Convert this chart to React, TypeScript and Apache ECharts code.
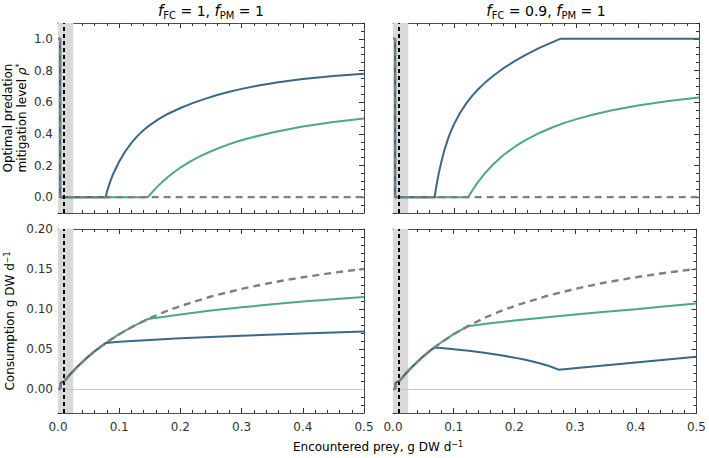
import React, { useEffect, useRef } from "react";
import * as echarts from "echarts";

// ---- Tick values ----
const xTicks = [0, 0.1, 0.2, 0.3, 0.4, 0.5];
const rhoTicks = [0, 0.2, 0.4, 0.6, 0.8, 1.0];
const rhoMinorTicks = [-0.1, -0.05, 0.05, 0.1, 0.15, 0.25, 0.3, 0.35, 0.45, 0.5, 0.55, 0.65, 0.7, 0.75, 0.85, 0.9, 0.95, 1.05, 1.1];
const consTicks = [0, 0.05, 0.1, 0.15, 0.2];
const consMinorTicks = [-0.03, -0.02, -0.01, 0.01, 0.02, 0.03, 0.04, 0.06, 0.07, 0.08, 0.09, 0.11, 0.12, 0.13, 0.14, 0.16, 0.17, 0.18, 0.19];

// ---- Panel titles ----
const panelTitles = [
  "{i|f}{sub|FC}{n| = 1, }{i|f}{sub|PM}{n| = 1}",
  "{i|f}{sub|FC}{n| = 0.9, }{i|f}{sub|PM}{n| = 1}",
];

// ---- Optimal predation mitigation level, f_FC = 1 ----
const rhoA_blue: [number, number][] = [
  [0, 1], [0.0035, 1], [0.0035, 0], [0.078, 0], [0.08, 0.035], [0.085, 0.095], [0.09, 0.145],
  [0.1, 0.225], [0.11, 0.29], [0.12, 0.343], [0.13, 0.387], [0.14, 0.424], [0.15, 0.455],
  [0.165, 0.494], [0.18, 0.527], [0.2, 0.563], [0.22, 0.594], [0.24, 0.621], [0.26, 0.645],
  [0.28, 0.666], [0.3, 0.684], [0.33, 0.707], [0.36, 0.726], [0.4, 0.747], [0.45, 0.766],
  [0.5, 0.78],
];
const rhoA_green: [number, number][] = [
  [0, 1], [0.0035, 1], [0.0035, 0], [0.147, 0], [0.15, 0.014], [0.155, 0.036], [0.16, 0.057],
  [0.17, 0.095], [0.18, 0.129], [0.19, 0.159], [0.2, 0.187], [0.215, 0.223], [0.23, 0.254],
  [0.25, 0.29], [0.27, 0.321], [0.29, 0.348], [0.31, 0.371], [0.35, 0.409], [0.4, 0.446],
  [0.45, 0.475], [0.5, 0.497],
];
const rhoA_ref: [number, number][] = [[0, 1], [0.0035, 1], [0.0035, 0], [0.5, 0]];

// ---- Optimal predation mitigation level, f_FC = 0.9 ----
const rhoB_blue: [number, number][] = [
  [0, 1], [0.0035, 1], [0.0035, 0], [0.068, 0], [0.07, 0.05], [0.072, 0.095], [0.075, 0.155],
  [0.08, 0.24], [0.085, 0.31], [0.09, 0.37], [0.095, 0.42], [0.1, 0.463], [0.11, 0.535],
  [0.12, 0.594], [0.13, 0.643], [0.14, 0.685], [0.15, 0.722], [0.165, 0.77], [0.18, 0.813],
  [0.2, 0.862], [0.22, 0.905], [0.24, 0.944], [0.26, 0.978], [0.273, 1.0], [0.5, 1.0],
];
const rhoB_green: [number, number][] = [
  [0, 1], [0.0035, 1], [0.0035, 0], [0.123, 0], [0.125, 0.013], [0.13, 0.045], [0.135, 0.074],
  [0.14, 0.101], [0.15, 0.15], [0.163, 0.205], [0.18, 0.265], [0.2, 0.322], [0.218, 0.364],
  [0.24, 0.407], [0.26, 0.44], [0.28, 0.469], [0.3, 0.493], [0.326, 0.521], [0.36, 0.55],
  [0.4, 0.579], [0.45, 0.607], [0.5, 0.63],
];
const rhoB_ref: [number, number][] = [[0, 1], [0.0035, 1], [0.0035, 0], [0.5, 0]];

// ---- Consumption, f_FC = 1 ----
const consA_blue: [number, number][] = [
  [0, 0], [0.0035, 0], [0.0045, 0.008], [0.01, 0.0096], [0.02, 0.0184], [0.03, 0.0265],
  [0.04, 0.0339], [0.05, 0.0408], [0.06, 0.0471], [0.07, 0.053], [0.078, 0.0574],
  [0.1, 0.0592], [0.2, 0.0633], [0.3, 0.0665], [0.4, 0.0694], [0.5, 0.0719],
];
const consA_green: [number, number][] = [
  [0, 0], [0.0035, 0], [0.0045, 0.008], [0.01, 0.0096], [0.02, 0.0184], [0.03, 0.0265],
  [0.04, 0.0339], [0.05, 0.0408], [0.06, 0.0471], [0.07, 0.053], [0.08, 0.0585],
  [0.1, 0.0685], [0.125, 0.0792], [0.147, 0.0875], [0.2, 0.0932], [0.25, 0.0981],
  [0.3, 0.1022], [0.35, 0.1058], [0.4, 0.1093], [0.45, 0.1123], [0.5, 0.1149],
];
const consA_ref: [number, number][] = [
  [0, 0], [0.0035, 0], [0.0045, 0.008], [0.01, 0.0096], [0.02, 0.0184], [0.03, 0.0265],
  [0.04, 0.0339], [0.05, 0.0408], [0.06, 0.0471], [0.07, 0.053], [0.08, 0.0585],
  [0.1, 0.0685], [0.125, 0.0792], [0.15, 0.0886], [0.175, 0.0966], [0.2, 0.1037],
  [0.25, 0.1156], [0.3, 0.1252], [0.35, 0.1331], [0.4, 0.1397], [0.45, 0.1453], [0.5, 0.1501],
];

// ---- Consumption, f_FC = 0.9 ----
const consB_blue: [number, number][] = [
  [0, 0], [0.0035, 0], [0.0045, 0.008], [0.01, 0.0096], [0.02, 0.0184], [0.03, 0.0265],
  [0.04, 0.0339], [0.05, 0.0408], [0.06, 0.0471], [0.068, 0.0519], [0.08, 0.0512],
  [0.1, 0.0497], [0.125, 0.0477], [0.15, 0.0453], [0.175, 0.0425], [0.2, 0.0392],
  [0.22, 0.0362], [0.24, 0.0325], [0.256, 0.029], [0.273, 0.0242], [0.5, 0.0404],
];
const consB_green: [number, number][] = [
  [0, 0], [0.0035, 0], [0.0045, 0.008], [0.01, 0.0096], [0.02, 0.0184], [0.03, 0.0265],
  [0.04, 0.0339], [0.05, 0.0408], [0.06, 0.0471], [0.07, 0.053], [0.08, 0.0585],
  [0.1, 0.0685], [0.123, 0.0784], [0.15, 0.0812], [0.2, 0.0856], [0.25, 0.0895],
  [0.3, 0.093], [0.35, 0.0965], [0.4, 0.0998], [0.45, 0.1034], [0.5, 0.107],
];
const consB_ref: [number, number][] = consA_ref;

// ---- Styling ----
const FONT = '"DejaVu Sans", sans-serif';
const BLUE = "#3a6887";
const GREEN = "#4caa7c";
const REF_GRAY = "#7f7f7f";
const BAND = "#d9d9d9";
const FRAME = "#4d4d4d";
const TICK = "#333333";
const TEXT = "#333333";

const BAND_END = 0.025;
const THRESHOLD_X = 0.006;

type Panel = {
  left: number;
  top: number;
  height: number;
  yMin: number;
  yMax: number;
  yMajor: number[];
  yMinor: number[];
  yDigits: number;
  showX: boolean;
  showY: boolean;
  zeroLine: boolean;
  blue: [number, number][];
  green: [number, number][];
  ref: [number, number][];
};

const PANEL_W = 306;
const panels: Panel[] = [
  { left: 58, top: 23, height: 190, yMin: -0.1, yMax: 1.1, yMajor: rhoTicks, yMinor: rhoMinorTicks, yDigits: 1, showX: false, showY: true, zeroLine: false, blue: rhoA_blue, green: rhoA_green, ref: rhoA_ref },
  { left: 393, top: 23, height: 190, yMin: -0.1, yMax: 1.1, yMajor: rhoTicks, yMinor: rhoMinorTicks, yDigits: 1, showX: false, showY: false, zeroLine: false, blue: rhoB_blue, green: rhoB_green, ref: rhoB_ref },
  { left: 58, top: 229, height: 184, yMin: -0.03, yMax: 0.2, yMajor: consTicks, yMinor: consMinorTicks, yDigits: 2, showX: true, showY: true, zeroLine: true, blue: consA_blue, green: consA_green, ref: consA_ref },
  { left: 393, top: 229, height: 184, yMin: -0.03, yMax: 0.2, yMajor: consTicks, yMinor: consMinorTicks, yDigits: 2, showX: true, showY: false, zeroLine: true, blue: consB_blue, green: consB_green, ref: consB_ref },
];

function buildOption(): echarts.EChartsCoreOption {
  const grid: any[] = [];
  const xAxis: any[] = [];
  const yAxis: any[] = [];
  const series: any[] = [];

  const labelStyle = { fontFamily: FONT, fontSize: 12, color: TEXT };

  panels.forEach((p, i) => {
    grid.push({ left: p.left, top: p.top, width: PANEL_W, height: p.height, containLabel: false });

    ["bottom", "top"].forEach((pos) => {
      xAxis.push({
        gridIndex: i,
        type: "value",
        position: pos,
        min: 0,
        max: 0.5,
        interval: 0.1,
        axisLine: { show: true, onZero: false, lineStyle: { color: FRAME, width: 1 } },
        axisTick: { show: true, inside: true, length: 5, lineStyle: { color: TICK } },
        minorTick: { show: true, splitNumber: 5, length: 3, lineStyle: { color: TICK } },
        splitLine: { show: false },
        minorSplitLine: { show: false },
        axisLabel: {
          show: pos === "bottom" && p.showX,
          margin: 8,
          ...labelStyle,
          customValues: xTicks,
          formatter: (v: number) => v.toFixed(1),
        },
      });
    });

    ["left", "right"].forEach((pos) => {
      yAxis.push({
        gridIndex: i,
        type: "value",
        position: pos,
        min: p.yMin,
        max: p.yMax,
        axisLine: { show: true, onZero: false, lineStyle: { color: FRAME, width: 1 } },
        axisTick: { show: true, inside: true, length: 5, customValues: p.yMajor, lineStyle: { color: TICK } },
        splitLine: { show: false },
        axisLabel: {
          show: pos === "left" && p.showY,
          margin: 5,
          ...labelStyle,
          customValues: p.yMajor,
          formatter: (v: number) => v.toFixed(p.yDigits),
        },
      });
      yAxis.push({
        gridIndex: i,
        type: "value",
        position: pos,
        min: p.yMin,
        max: p.yMax,
        axisLine: { show: false, onZero: false },
        axisTick: { show: true, inside: true, length: 3, customValues: p.yMinor, lineStyle: { color: TICK } },
        splitLine: { show: false },
        axisLabel: { show: false },
      });
    });

    const xi = i * 2;
    const yi = i * 4;

    const markLineData: any[] = [
      { xAxis: THRESHOLD_X, lineStyle: { color: "#000000", width: 2, type: [4, 3] } },
    ];
    if (p.zeroLine) {
      markLineData.unshift({ yAxis: 0, lineStyle: { color: "#c8c8c8", width: 1, type: "solid" } });
    }

    series.push({
      type: "line",
      xAxisIndex: xi,
      yAxisIndex: yi,
      data: [],
      z: 1,
      silent: true,
      markArea: {
        silent: true,
        itemStyle: { color: BAND },
        data: [[{ xAxis: 0 }, { xAxis: BAND_END }]],
      },
      markLine: {
        silent: true,
        symbol: ["none", "none"],
        label: { show: false },
        data: markLineData,
      },
    });

    const curve = (data: [number, number][], color: string, z: number, dashed = false) => ({
      type: "line",
      xAxisIndex: xi,
      yAxisIndex: yi,
      data,
      z,
      symbol: "none",
      showSymbol: false,
      smooth: false,
      silent: true,
      lineStyle: { color, width: dashed ? 2.4 : 2, type: dashed ? [7, 5] : "solid" },
    });

    series.push(curve(p.green, GREEN, 3));
    series.push(curve(p.blue, BLUE, 4));
    series.push(curve(p.ref, REF_GRAY, 5, true));
  });

  const titleRich = {
    i: { fontFamily: FONT, fontSize: 15, fontStyle: "italic", color: TEXT, lineHeight: 19 },
    n: { fontFamily: FONT, fontSize: 14, color: TEXT, lineHeight: 19 },
    sub: { fontFamily: FONT, fontSize: 10, color: TEXT, lineHeight: 10, verticalAlign: "bottom" },
  };

  const axisRich = {
    n: { fontFamily: FONT, fontSize: 12, color: TEXT, lineHeight: 14 },
    i: { fontFamily: FONT, fontSize: 12, fontStyle: "italic", color: TEXT, lineHeight: 14 },
    sup: { fontFamily: FONT, fontSize: 8, color: TEXT, lineHeight: 8, verticalAlign: "top" },
  };

  const graphic: any[] = [
    {
      type: "text",
      x: 211,
      y: 11,
      style: { text: panelTitles[0], rich: titleRich, align: "center", verticalAlign: "middle" },
    },
    {
      type: "text",
      x: 546,
      y: 11,
      style: { text: panelTitles[1], rich: titleRich, align: "center", verticalAlign: "middle" },
    },
    {
      type: "text",
      x: 15,
      y: 118,
      rotation: Math.PI / 2,
      style: {
        text: "{n|Optimal predation}\n{n|mitigation level }{i|ρ}{sup|*}",
        rich: axisRich,
        align: "center",
        verticalAlign: "middle",
      },
    },
    {
      type: "text",
      x: 10,
      y: 321,
      rotation: Math.PI / 2,
      style: {
        text: "{n|Consumption g DW d}{sup|−1}",
        rich: axisRich,
        align: "center",
        verticalAlign: "middle",
      },
    },
    {
      type: "text",
      x: 378,
      y: 447,
      style: {
        text: "{n|Encountered prey, g DW d}{sup|−1}",
        rich: axisRich,
        align: "center",
        verticalAlign: "middle",
      },
    },
  ];

  return {
    animation: false,
    backgroundColor: "#ffffff",
    grid,
    xAxis,
    yAxis,
    series,
    graphic,
  };
}

export default function App() {
  const ref = useRef<HTMLDivElement>(null);

  useEffect(() => {
    document.body.style.margin = "0";
    if (!ref.current) return;
    const chart = echarts.init(ref.current, undefined, { renderer: "svg" });
    chart.setOption(buildOption());
    return () => {
      chart.dispose();
    };
  }, []);

  return <div ref={ref} style={{ width: 709, height: 458 }} />;
}
